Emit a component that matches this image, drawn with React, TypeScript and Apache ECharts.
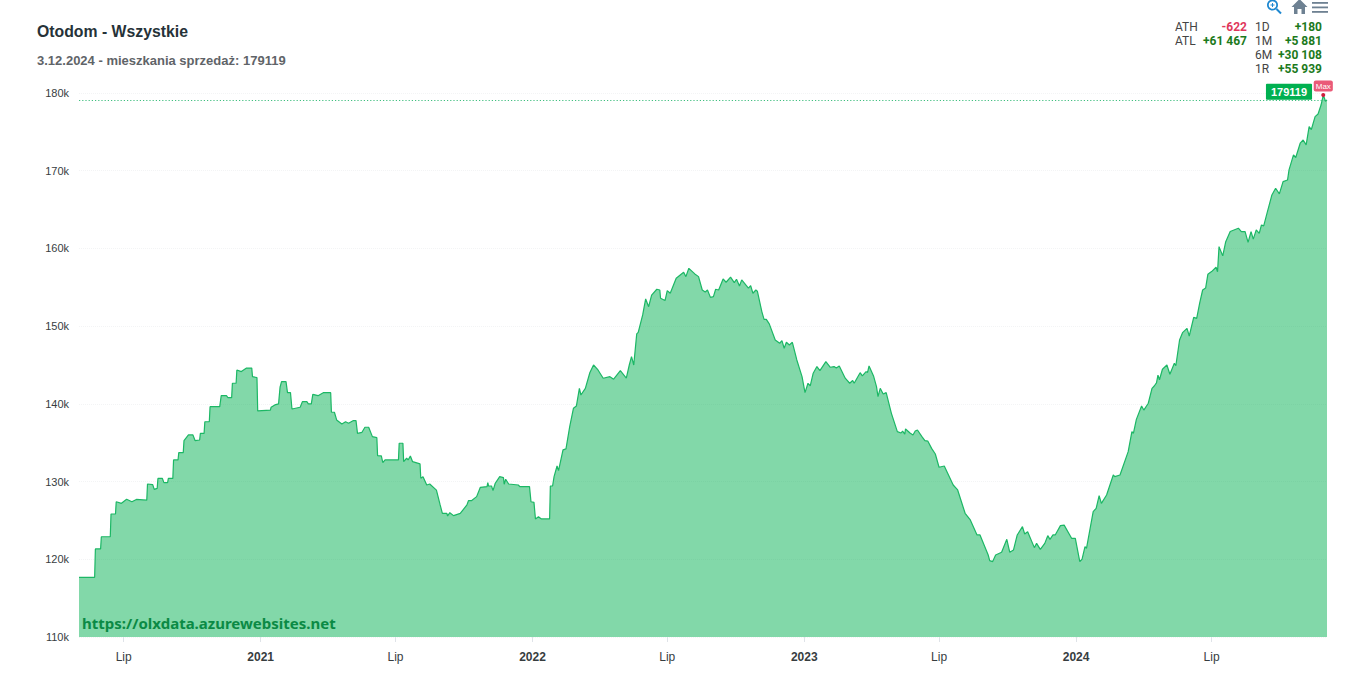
import React, { useEffect, useRef } from "react";
import * as echarts from "echarts";

// [days since the first sample, apartments listed]
const startDate = [2020, 4, 2];
const period2020: number[][] = [[0,117680],[21,117680],[22,121330],[29,121330],[30,122900],[42,122900],[43,125830],[49,125830],[50,127400],[57,127200],[64,127720],[71,127400],[77,127700],[91,127600],[92,129690],[99,129600],[101,129000],[105,129130],[106,130400],[112,130400],[114,129860],[119,129860],[120,130400],[126,130400],[127,132780],[133,132780],[134,133720],[140,133720],[141,135260],[147,136000],[153,136000],[156,135260],[162,135350],[163,136200],[168,136200],[169,137700],[175,137700],[176,139640],[189,139640],[191,141050],[198,141050],[200,140800],[205,140800],[206,142650],[211,142650],[212,144360],[218,144150],[225,144600],[232,144600],[233,143500],[239,143370],[240,139090]];
const period2021: number[][] = [[257,139200],[258,139560],[263,139860],[268,140000],[270,142140],[272,142860],[278,142860],[280,141440],[284,141440],[286,139340],[297,139560],[300,140280],[306,140280],[308,140000],[312,140000],[314,141230],[321,141050],[328,141440],[338,141440],[339,138920],[343,138920],[346,137930],[353,137400],[358,137700],[362,137500],[368,137840],[372,137840],[374,136200],[380,136340],[384,136990],[389,136990],[394,135780],[400,135650],[401,133330],[406,133300],[408,132430],[411,132780],[429,132780],[430,134930],[435,134930],[436,132560],[440,133000],[442,132780],[445,133300],[448,132560],[458,132270],[459,130420],[462,130630],[467,129560],[471,129690],[480,128900],[485,127000],[488,125900],[494,125900],[495,125570],[498,126000],[503,125620],[512,125900],[521,127000],[523,127540],[527,127540],[534,128060],[539,129260],[548,129350],[549,129860],[550,129430],[554,129430],[556,128830],[559,129780],[565,130630],[570,130500],[571,129650],[573,130300],[577,129690],[590,129560],[592,129350],[605,129350]];
const period2022: number[][] = [[607,127400],[611,127320],[613,125190],[617,125480],[621,125190],[632,125190],[633,129430],[636,129430],[638,130630],[642,132000],[644,131400],[650,134070],[654,134200],[659,137060],[664,139430],[668,139730],[672,142000],[674,141140],[680,142000],[686,144000],[691,145000],[697,144360],[704,143300],[713,143500],[718,143170],[727,144270],[735,143300],[739,145000],[742,146080],[745,145000],[749,149000],[751,149200],[757,151440],[761,153500],[765,152500],[769,154000],[776,154750],[780,154650],[781,153590],[787,153290],[790,154570],[794,154230],[802,156160],[812,156930],[815,156370],[819,157440],[827,156720],[832,156370],[837,154650],[841,154400],[844,154650],[848,153700],[852,153790],[855,154750],[859,154650],[865,156070],[869,155650],[875,156300],[880,155600],[883,156030],[887,155170],[890,155950],[899,154880],[902,155220],[905,154230],[909,154650],[911,154500],[917,151870],[920,150880],[923,150880],[927,150290],[935,148220],[941,147800],[944,148130],[947,147150],[950,147920],[954,147570],[958,147920],[964,145650],[971,143500]];
const period2023: number[][] = [[975,141440],[979,142650],[982,142300],[986,143940],[991,144800],[995,144270],[1003,145430],[1009,144710],[1014,144800],[1017,144600],[1021,144870],[1029,143300],[1035,142650],[1039,143000],[1041,142650],[1049,144010],[1052,143590],[1057,144140],[1059,144050],[1061,144870],[1067,143590],[1071,142210],[1073,140920],[1076,142000],[1080,141270],[1084,141440],[1091,138780],[1099,136420],[1104,136250],[1106,136500],[1109,136100],[1110,136770],[1116,136250],[1120,136000],[1123,136500],[1126,136640],[1132,135780],[1136,135270],[1140,135200],[1145,134270],[1150,133550],[1155,131840],[1162,132000],[1174,129560],[1180,128920],[1190,125920],[1197,125060],[1206,123130],[1210,123130],[1221,120550],[1223,119820],[1227,119700],[1231,120550],[1239,120900],[1246,122570],[1250,120900],[1255,121200],[1260,123130],[1267,124200],[1270,123260],[1274,123550],[1283,121500],[1286,122050],[1291,121280],[1297,122050],[1301,123040],[1304,122570],[1308,123130],[1311,123130],[1318,124330],[1323,124400],[1333,122700],[1338,122700]];
const period2024: number[][] = [[1344,119700],[1347,120000],[1351,121620],[1353,121400],[1362,126130],[1366,126560],[1370,128180],[1373,127200],[1380,128270],[1389,130850],[1391,130630],[1398,130850],[1409,133850],[1414,136420],[1416,136200],[1420,138000],[1427,139730],[1430,139200],[1436,140080],[1441,142000],[1444,142300],[1447,142700],[1449,143700],[1451,143100],[1455,144450],[1461,145000],[1465,143810],[1471,145220],[1473,144900],[1478,148220],[1482,149160],[1488,149720],[1491,148730],[1497,151130],[1501,151000],[1505,152950],[1509,154650],[1513,154900],[1516,156670],[1521,157020],[1527,157580],[1529,157000],[1531,160230],[1536,159040],[1540,160870],[1546,162170],[1557,162600],[1561,162170],[1566,162170],[1570,160770],[1574,162170],[1577,161190],[1581,162380],[1585,161950],[1588,163020],[1591,162900],[1596,164730],[1602,166880],[1607,167740],[1612,167010],[1617,168600],[1623,168800],[1625,170100],[1631,172030],[1634,171700],[1640,173540],[1644,173950],[1648,173320],[1652,175680],[1655,175300],[1660,176960],[1664,177300],[1668,178450],[1671,179741],[1674,178939],[1676,179119]];

const lastValue = 179119;
const maxValue = 179741;
const maxDay = 1671;
const lastDay = 1676;

const tickDates = [[2020,6,1],[2021,0,1],[2021,6,1],[2022,0,1],[2022,6,1],[2023,0,1],[2023,6,1],[2024,0,1],[2024,6,1]];
const titleText = "Otodom - Wszystkie";
const subtitleText = "3.12.2024 - mieszkania sprzedaż: 179119";
const watermark = "https://olxdata.azurewebsites.net";
const statsLeft = [["ATH", "-622"], ["ATL", "+61 467"]];
const statsRight = [["1D", "+180"], ["1M", "+5 881"], ["6M", "+30 108"], ["1R", "+55 939"]];

const SANS = '"Liberation Sans", Arial, sans-serif';
const STAT = 'Roboto, "Noto Sans", sans-serif';
const GREEN = "#00b050";
const RED = "#e0385c";
const STAT_GREEN = "#1c7a1c";

const toTime = (day: number) => new Date(startDate[0], startDate[1], startDate[2] + day).getTime();

export default function App() {
  const ref = useRef<HTMLDivElement>(null);
  useEffect(() => {
    const chart = echarts.init(ref.current!, undefined, { renderer: "svg" });
    const seriesData = [...period2020, ...period2021, ...period2022, ...period2023, ...period2024].map(
      ([d, v]) => [toTime(d), v]
    );
    const ticks = tickDates.map(([y, m, d]) => new Date(y, m, d).getTime());

    const statText = (x: number, y: number, text: string, align: string, fill: string, bold: boolean) => ({
      type: "text",
      x,
      y,
      silent: true,
      style: {
        text,
        fill,
        align,
        verticalAlign: "middle",
        font: `${bold ? "bold " : ""}12px ${STAT}`,
      },
    });
    const stats: any[] = [];
    statsLeft.forEach(([k, v], i) => {
      const y = 26.5 + i * 14;
      stats.push(statText(1175, y, k, "left", "#444", false));
      stats.push(statText(1247, y, v, "right", v.startsWith("-") ? RED : STAT_GREEN, true));
    });
    statsRight.forEach(([k, v], i) => {
      const y = 26.5 + i * 14;
      stats.push(statText(1255, y, k, "left", "#444", false));
      stats.push(statText(1322, y, v, "right", STAT_GREEN, true));
    });

    const icons: any[] = [
      { type: "ring", shape: { cx: 1272.5, cy: 5, r: 5.5, r0: 3.8 }, style: { fill: "#1e88d0" } },
      { type: "line", shape: { x1: 1276.5, y1: 9, x2: 1281, y2: 13.5 }, style: { stroke: "#1e88d0", lineWidth: 2 } },
      { type: "line", shape: { x1: 1270.5, y1: 5, x2: 1274.5, y2: 5 }, style: { stroke: "#1e88d0", lineWidth: 1 } },
      { type: "line", shape: { x1: 1272.5, y1: 3, x2: 1272.5, y2: 7 }, style: { stroke: "#1e88d0", lineWidth: 1 } },
      {
        type: "polygon",
        shape: { points: [[1299.5, -1], [1307.5, 7], [1305, 7], [1305, 14], [1301.5, 14], [1301.5, 9], [1297.5, 9], [1297.5, 14], [1294, 14], [1294, 7], [1291.5, 7]] },
        style: { fill: "#6e8192" },
      },
      { type: "rect", shape: { x: 1312, y: 2, width: 16, height: 1.8 }, style: { fill: "#6e8192" } },
      { type: "rect", shape: { x: 1312, y: 6.5, width: 16, height: 1.8 }, style: { fill: "#6e8192" } },
      { type: "rect", shape: { x: 1312, y: 11, width: 16, height: 1.8 }, style: { fill: "#6e8192" } },
    ];

    chart.setOption({
      animation: false,
      backgroundColor: "#ffffff",
      title: {
        text: titleText,
        subtext: subtitleText,
        left: 37,
        top: 23,
        padding: 0,
        itemGap: 15,
        textStyle: { fontFamily: SANS, fontSize: 15.8, fontWeight: "bold", color: "#263238" },
        subtextStyle: { fontFamily: SANS, fontSize: 13, fontWeight: 600, color: "#5f6468" },
      },
      grid: { left: 79, right: 29, top: 93, bottom: 42 },
      xAxis: {
        type: "value",
        min: toTime(0),
        max: toTime(lastDay),
        axisLine: { show: false },
        splitLine: { show: false },
        axisTick: { show: true, length: 5, customValues: ticks, lineStyle: { color: "#dfe3e8" } },
        axisLabel: {
          customValues: ticks,
          margin: 14,
          hideOverlap: false,
          fontFamily: SANS,
          fontSize: 12,
          color: "#373d3f",
          formatter: (value: number) => {
            const d = new Date(value);
            return d.getMonth() === 6 ? "Lip" : `{y|${d.getFullYear()}}`;
          },
          rich: { y: { fontFamily: SANS, fontSize: 12, fontWeight: "bold", color: "#373d3f" } },
        },
      },
      yAxis: {
        type: "value",
        min: 110000,
        max: 180000,
        interval: 10000,
        axisLine: { show: false },
        axisTick: { show: false },
        splitLine: { show: true, lineStyle: { color: "#f3f4f5", type: "dotted" } },
        axisLabel: {
          margin: 10,
          fontFamily: SANS,
          fontSize: 11,
          color: "#373d3f",
          formatter: (v: number) => `${v / 1000}k`,
        },
      },
      series: [
        {
          type: "line",
          data: seriesData,
          showSymbol: false,
          symbol: "none",
          smooth: false,
          lineStyle: { color: "#1cb765", width: 1.2 },
          itemStyle: { color: GREEN },
          areaStyle: { color: GREEN, opacity: 0.49, origin: "start" },
          markLine: {
            silent: true,
            symbol: "none",
            label: { show: false },
            lineStyle: { color: "#3fbf7f", type: [1.2, 2], width: 1.2 },
            data: [{ yAxis: lastValue }],
          },
          markPoint: {
            silent: true,
            data: [
              {
                coord: [toTime(lastDay), lastValue],
                symbol: "circle",
                symbolSize: 0,
                label: {
                  show: true,
                  formatter: String(lastValue),
                  position: "inside",
                  offset: [-38, -8],
                  fontFamily: SANS,
                  fontSize: 11,
                  fontWeight: 600,
                  color: "#fff",
                  backgroundColor: GREEN,
                  padding: [3, 5, 2, 5],
                  borderRadius: 1,
                },
              },
              {
                coord: [toTime(maxDay), maxValue],
                symbol: "circle",
                symbolSize: 4,
                itemStyle: { color: "#d01c3c" },
                label: {
                  show: true,
                  formatter: "Max",
                  position: "inside",
                  offset: [0, -9],
                  fontFamily: SANS,
                  fontSize: 8,
                  color: "#fff",
                  backgroundColor: "#ea5a78",
                  padding: [2, 2, 1, 2],
                  borderRadius: 2,
                },
              },
            ],
          },
        },
      ],
      graphic: [
        ...stats,
        ...icons,
        {
          type: "text",
          x: 82,
          y: 622.5,
          silent: true,
          z: 10,
          style: {
            text: watermark,
            fill: "#0b8a45",
            verticalAlign: "middle",
            font: 'bold 15px "Noto Sans", sans-serif',
          },
        },
      ],
    });
    return () => chart.dispose();
  }, []);
  return (
    <div
      ref={ref}
      style={{ position: "fixed", left: 0, top: 0, width: 1356, height: 679 }}
    />
  );
}
